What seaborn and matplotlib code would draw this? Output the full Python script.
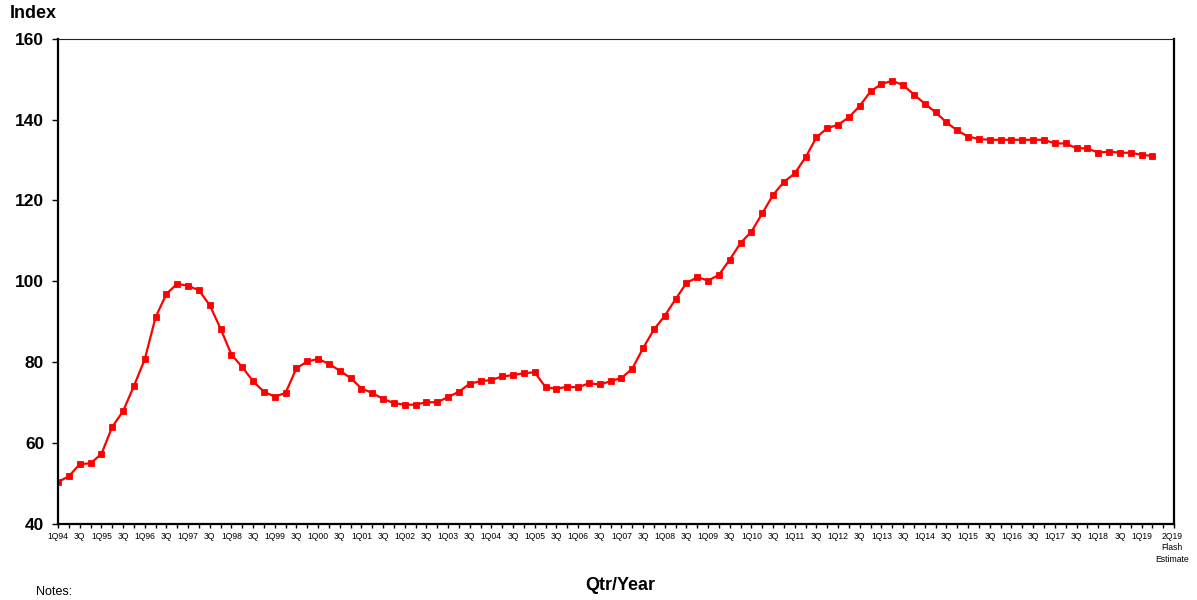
import numpy as np
import pandas as pd
import matplotlib
matplotlib.use("Agg")
import matplotlib.pyplot as plt
import matplotlib.transforms as mtransforms
import seaborn as sns

# квартальные метки 1Q94 .. 2Q19
years = list(range(1994, 2020))
quarters = [f"{q}Q{y % 100:02d}" for y in years for q in (1, 2, 3, 4)][:102]

index_values = [
    50.4, 51.8, 54.8, 55.0, 57.3, 64.0, 67.9, 74.1, 80.7, 91.1,
    96.9, 99.4, 98.9, 97.8, 94.1, 88.3, 81.9, 78.8, 75.3, 72.7,
    71.5, 72.4, 78.5, 80.2, 80.8, 79.6, 77.9, 76.1, 73.5, 72.4,
    70.9, 69.9, 69.5, 69.5, 70.1, 70.1, 71.4, 72.7, 74.7, 75.3,
    75.6, 76.5, 76.8, 77.3, 77.5, 73.8, 73.5, 73.9, 73.8, 74.8,
    74.5, 75.3, 76.1, 78.4, 83.5, 88.1, 91.5, 95.6, 99.6, 101.0,
    100.2, 101.6, 105.4, 109.5, 112.3, 116.8, 121.4, 124.6, 126.7, 130.7,
    135.6, 137.9, 138.7, 140.6, 143.4, 147.0, 148.8, 149.6, 148.5, 146.2,
    143.9, 141.8, 139.3, 137.3, 135.8, 135.2, 135.0, 135.0, 135.0, 135.0,
    135.0, 135.0, 134.1, 134.1, 132.9, 132.9, 131.8, 132.1, 131.8, 131.8,
    131.3, 131.0,
]

y_ticks = [40, 60, 80, 100, 120, 140, 160]

df = pd.DataFrame({"pos": np.arange(len(quarters)), "qtr": quarters, "index": index_values})

# подписи по оси X: каждый второй квартал, последний - флеш-оценка
tick_labels = []
for i in range(104):
    if i < len(quarters) and i % 2 == 0:
        q = quarters[i]
        tick_labels.append(q if q.startswith("1Q") else "3Q")
    elif i == len(quarters) - 1:
        tick_labels.append(quarters[i] + "\nFlash\nEstimate")
    else:
        tick_labels.append("")

sns.set_style("ticks")
plt.rcParams["font.family"] = ["Liberation Sans", "DejaVu Sans"]
plt.rcParams["text.color"] = "black"
plt.rcParams["xtick.color"] = "black"
plt.rcParams["ytick.color"] = "black"
plt.rcParams["xtick.labelcolor"] = "black"
plt.rcParams["ytick.labelcolor"] = "black"

fig = plt.figure(figsize=(11.97, 6), dpi=100)
ax = fig.add_axes([0.0485, 0.1267, 0.9323, 0.8088])

sns.lineplot(data=df, x="pos", y="index", ax=ax, color="#ff0000", linewidth=1.6,
             marker="s", markersize=5, markeredgecolor="#ff0000", markeredgewidth=0.6)

ax.set_xlim(0, 103)
ax.set_ylim(40, 160)
ax.set_yticks(y_ticks)
ax.set_yticklabels([str(v) for v in y_ticks], fontsize=12.5, fontweight="bold")
ax.set_xticks(range(104))
ax.set_xticklabels(tick_labels, fontsize=6.2, linespacing=1.3)
ax.tick_params(axis="x", length=3, width=1, pad=3)
ax.tick_params(axis="y", length=4, width=1, pad=6)

offset = mtransforms.ScaledTranslation(0.2, 0, fig.dpi_scale_trans)
last_lbl = ax.get_xticklabels()[len(quarters) - 1]
last_lbl.set_transform(last_lbl.get_transform() + offset)

for side in ["left", "bottom", "right"]:
    ax.spines[side].set_linewidth(1.6)
    ax.spines[side].set_color("black")
ax.spines["top"].set_linewidth(0.8)
ax.spines["top"].set_color("#222222")

ax.set_xlabel("")
ax.set_ylabel("")
fig.text(0.008, 0.978, "Index", fontsize=13, fontweight="bold", va="center", ha="left")
fig.text(0.518, 0.025, "Qtr/Year", fontsize=13, fontweight="bold", va="center", ha="center")
fig.text(0.03, 0.013, "Notes:", fontsize=9, va="center", ha="left")

fig.savefig("out.png", dpi=100, facecolor="white")
